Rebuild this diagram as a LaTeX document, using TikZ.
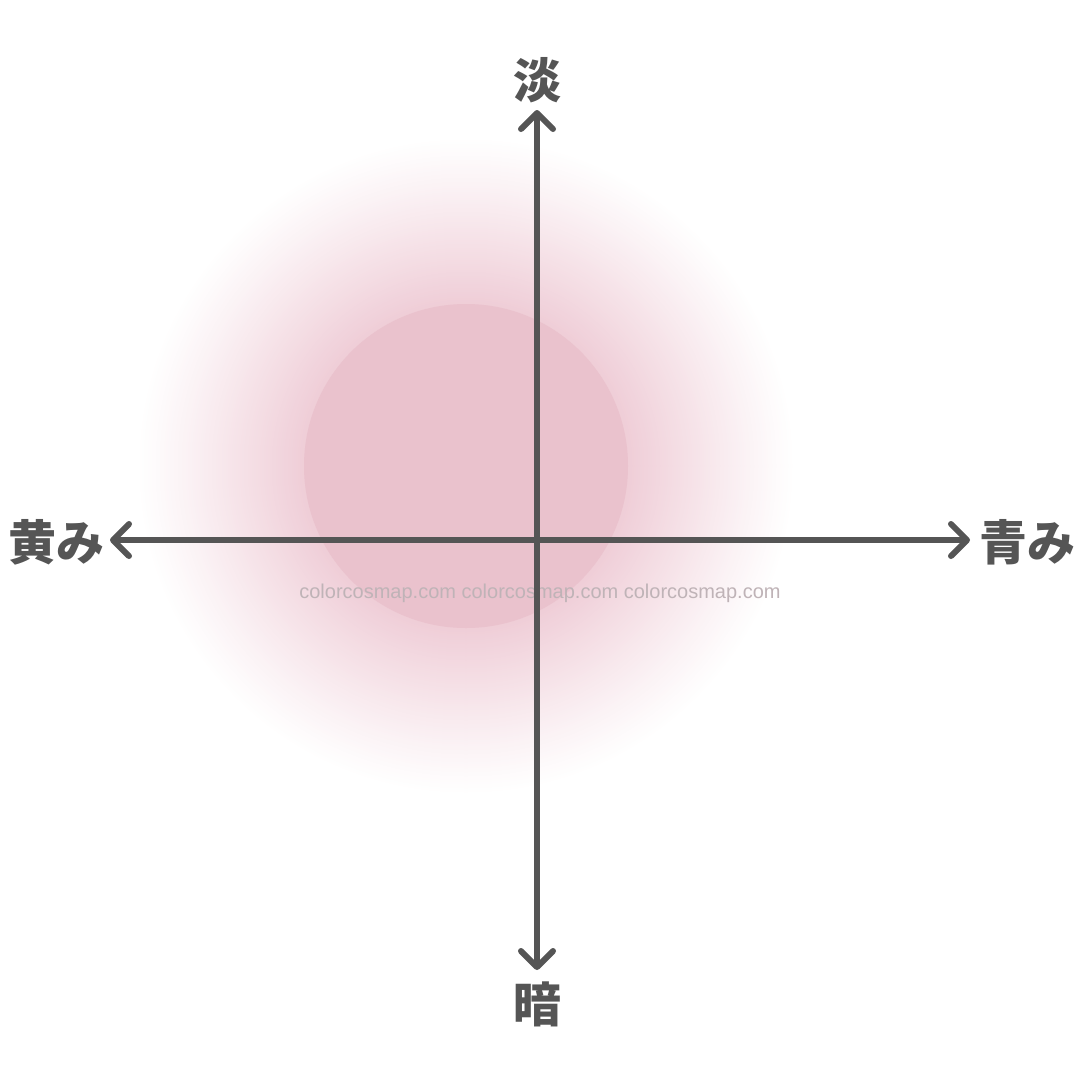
\documentclass[tikz,border=0pt]{standalone}
\usepackage{fontspec}
\setmainfont{Liberation Sans}
\newfontfamily\cjk{Noto Sans CJK JP}
\usetikzlibrary{arrows.meta}
\definecolor{axisgray}{HTML}{555555}
\definecolor{glowpink}{HTML}{EFCDD7}
\definecolor{circpink}{HTML}{EAC2CD}
\definecolor{wmgray}{HTML}{BFB3B7}
\tikzset{
  axisline/.style={draw=axisgray, line width=6pt, line cap=round,
    arrows={Straight Barb[length=16pt,width=32pt,round]-Straight Barb[length=16pt,width=32pt,round]}},
  axislabel/.style={text=axisgray, font=\cjk\bfseries\fontsize{48pt}{48pt}\selectfont, inner sep=0pt},
  watermark/.style={text=wmgray, font=\fontsize{20pt}{20pt}\selectfont, inner sep=0pt}
}
\begin{document}
\begin{tikzpicture}[x=1pt,y=-1pt]
\useasboundingbox[fill=white] (0,0) rectangle (1080,1080);
% glow
\foreach \i in {0,...,84}{
  \pgfmathsetmacro{\r}{330-2*\i}
  \pgfmathsetmacro{\p}{100*(\i/84)^1.1}
  \fill[glowpink!\p!white] (466,466) circle (\r);
}
\fill[circpink] (466,466) circle (162);
\node[watermark] (wm) at (540,593) {colorcosmap.com colorcosmap.com colorcosmap.com};
% axes
\coordinate (top) at (537,110);
\coordinate (bottom) at (537,970);
\coordinate (left) at (110,540);
\coordinate (right) at (970,540);
\draw[axisline] (bottom) -- (top);
\draw[axisline] (left) -- (right);
\node[axislabel] (light) at (537,80) {淡};
\node[axislabel] (dark) at (537,1004) {暗};
\node[axislabel, anchor=east] (yellow) at (105,542) {黄み};
\node[axislabel, anchor=west] (blue) at (979,542) {青み};
\end{tikzpicture}
\end{document}
